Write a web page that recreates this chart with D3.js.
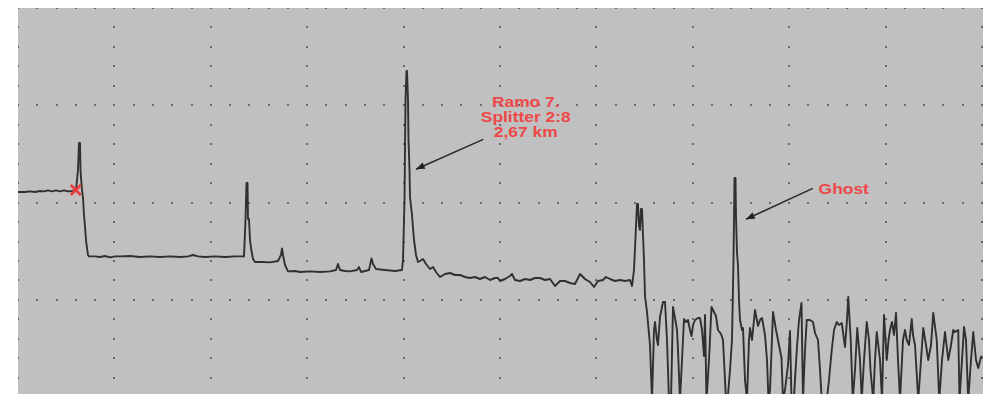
<!DOCTYPE html>
<html>
<head>
<meta charset="utf-8">
<script src="https://cdn.jsdelivr.net/npm/d3@7"></script>
<style>
  html, body { margin: 0; padding: 0; background: #ffffff; }
  svg { display: block; }
</style>
</head>
<body>
<svg id="chart" width="989" height="394"></svg>
<script>
// OTDR trace: distance in km, level in dB. Each section is a list of [km, dB] samples.
const launchTrace = [
  [-0.442,10.1],[-0.386,10.1],[-0.346,10.13],[-0.306,10.1],[-0.266,10.15],[-0.234,10.13],
  [-0.202,10.18],[-0.170,10.13],[-0.138,10.18],[-0.106,10.13],[-0.074,10.18],[-0.042,10.13],
  [-0.002,10.15],[0.022,10.2],[0.038,11.2],[0.046,12.55],[0.054,12.55],[0.058,11.2],
  [0.062,10.8],[0.070,10.2],[0.078,9.8],[0.086,8.95],[0.094,8.35],[0.102,7.7],[0.110,7.3],
  [0.118,6.95],[0.126,6.88]
];
const span1Trace = [
  [0.174,6.88],[0.214,6.85],[0.254,6.9],[0.294,6.83],[0.334,6.88],[0.374,6.88],[0.454,6.9],
  [0.534,6.85],[0.614,6.88],[0.694,6.85],[0.774,6.88],[0.854,6.85],[0.918,6.88],[0.958,6.95],
  [0.998,6.88],[1.054,6.85],[1.134,6.88],[1.214,6.85],[1.294,6.88],[1.366,6.88],
  [1.378,8.7],[1.386,10.55],[1.394,10.55],[1.398,8.75],[1.406,8.75],[1.414,7.7],[1.422,7.3],
  [1.438,6.75],[1.454,6.6]
];
const span2Trace = [
  [1.51,6.6],[1.574,6.58],[1.638,6.65],[1.662,6.95],[1.67,7.28],[1.678,6.95],[1.694,6.45],
  [1.718,6.13],[1.774,6.15],[1.814,6.1],[1.894,6.13],[1.974,6.1],[2.054,6.13],[2.102,6.2],
  [2.118,6.5],[2.134,6.2],[2.174,6.15],[2.214,6.13],[2.27,6.2],[2.286,6.35],[2.302,6.1],
  [2.334,6.15],[2.366,6.2],[2.386,6.78],[2.398,6.5],[2.422,6.25],[2.494,6.2],[2.574,6.15],
  [2.63,6.2]
];
const span3Trace = [
  [2.638,6.7],[2.65,9.7],[2.658,14.7],[2.666,16.15],[2.67,16.15],[2.678,14.7],[2.682,12.7],
  [2.69,11.2],[2.694,9.85],[2.71,8.95],[2.726,7.7],[2.742,6.95],[2.758,6.6],[2.774,6.65],
  [2.798,6.75],[2.822,6.5],[2.854,6.25],[2.878,6.35],[2.902,6.1],[2.934,5.85],[2.974,6.0],
  [3.014,6.05],[3.054,5.95],[3.094,5.95],[3.134,5.85],[3.174,5.8],[3.214,5.85],[3.254,5.75],
  [3.294,5.85],[3.334,5.7],[3.374,5.8],[3.398,5.8],[3.414,5.65],[3.454,5.75],[3.494,5.9],
  [3.51,6.0],[3.534,5.7],[3.574,5.65],[3.614,5.75],[3.654,5.7],[3.694,5.8],[3.734,5.8],
  [3.774,5.7],[3.814,5.75],[3.854,5.4],[3.894,5.65],[3.934,5.65],[3.974,5.55],[4.014,5.5],
  [4.054,6.0],[4.094,5.75],[4.134,5.6],[4.166,5.35],[4.198,5.65],[4.238,5.7],[4.262,5.85],
  [4.294,5.75],[4.334,5.65],[4.374,5.7],[4.414,5.65],[4.454,5.7],[4.47,5.4],
  [4.486,6.2],[4.502,8.4],[4.51,9.5],[4.518,9.5],[4.526,8.4],[4.534,8.2],[4.542,9.25],
  [4.55,9.25],[4.558,7.95],[4.566,6.7],[4.574,4.9],[4.59,4.1],[4.598,3.55],[4.614,2.45],
  [4.63,-0.3]
];
const endNoiseTrace = [
  [4.646,3.2],[4.654,3.6],[4.67,2.7],[4.678,2.45],[4.694,3.85],[4.718,4.6],[4.734,4.6],
  [4.75,2.7],[4.766,-0.3],[4.782,-0.3],[4.798,4.35],[4.814,3.8],[4.83,3.2],[4.838,2.2],
  [4.854,-0.3],[4.87,1.7],[4.886,3.75],[4.902,3.6],[4.918,3.7],[4.934,3.2],[4.946,2.9],
  [4.958,3.45],[4.974,3.7],[4.998,3.8],[5.014,3.8],[5.03,3.2],[5.046,1.9],[5.054,3.95],
  [5.066,-0.3],[5.086,1.7],[5.106,4.35],[5.126,4.1],[5.142,3.9],[5.158,3.2],[5.182,3.0],
  [5.198,2.7],[5.222,-0.3],[5.238,-0.05],[5.254,1.2],[5.27,2.7],[5.282,6.7],[5.29,10.8],
  [5.298,10.8],[5.302,8.85],[5.31,7.05],[5.318,6.45],[5.326,4.7],[5.334,3.7],[5.35,3.2],
  [5.358,3.3],[5.374,0.7],[5.39,-0.3],[5.406,2.7],[5.414,3.3],[5.43,2.7],[5.454,4.2],
  [5.478,3.4],[5.494,3.7],[5.51,3.8],[5.534,2.95],[5.55,1.7],[5.562,-0.3],[5.574,0.2],
  [5.598,4.1],[5.622,3.2],[5.638,2.7],[5.666,1.8],[5.678,-0.3],[5.694,0.2],[5.718,1.45],
  [5.734,3.15],[5.746,-0.3],[5.766,-0.1],[5.79,2.35],[5.806,3.7],[5.826,4.55],[5.838,-0.3],
  [5.854,2.2],[5.868,3.7],[5.894,3.7],[5.918,3.6],[5.934,3.05],[5.958,2.7],[5.974,1.2],
  [5.988,-0.3],[6.028,-0.3],[6.046,0.7],[6.068,2.2],[6.086,3.2],[6.108,3.6],[6.126,3.45],
  [6.148,3.55],[6.174,2.35],[6.19,3.7],[6.2,4.85],[6.22,2.7],[6.236,-0.3],[6.254,1.2],
  [6.272,3.3],[6.294,1.7],[6.308,-0.3],[6.326,1.7],[6.348,3.6],[6.366,2.7],[6.378,1.2],
  [6.4,-0.3],[6.414,1.7],[6.428,3.1],[6.454,1.7],[6.47,-0.3],[6.486,3.95],[6.508,1.7],
  [6.522,2.7],[6.534,3.2],[6.55,3.6],[6.566,2.95],[6.582,4.05],[6.598,1.7],[6.614,-0.3],
  [6.638,2.7],[6.654,3.2],[6.668,2.7],[6.686,2.45],[6.708,3.75],[6.718,2.95],[6.734,2.45],
  [6.76,-0.3],[6.782,1.7],[6.8,3.3],[6.822,2.45],[6.84,1.7],[6.862,2.45],[6.88,4.05],
  [6.908,2.7],[6.928,-0.3],[6.95,1.7],[6.974,3.1],[7.0,1.7],[7.022,2.45],[7.04,3.2],
  [7.054,3.1],[7.08,3.2],[7.09,-0.3],[7.11,1.7],[7.126,3.35],[7.142,2.7],[7.16,-0.3],
  [7.182,1.7],[7.2,3.1],[7.222,1.7],[7.24,1.3],[7.262,1.85],[7.27,1.9]
];

// Visible distance / level window and screen divisions
const distanceDomain = [-0.442, 7.27];
const levelDomain = [0, 19.3];
const xDivisions = 10, yDivisions = 4, subDivisions = 5;

// Event marker at the start of the fibre
const eventMarker = { km: 0.02, db: 10.2 };

// Callouts: text lines, text anchor, arrow tail and tip (km, dB)
const callouts = [
  { lines: ["Ramo 7.", "Splitter 2:8", "2,67 km"], textKm: 3.62, textDb: 14.35,
    tail: [3.28, 12.73], tip: [2.742, 11.24] },
  { lines: ["Ghost"], textKm: 6.164, textDb: 9.985,
    tail: [5.916, 10.28], tip: [5.382, 8.74] }
];

const svg = d3.select("#chart");
const plotLeft = 18, plotRight = 982, plotTop = 8;
const divH = 97.3;
const plotBottom = plotTop + divH * yDivisions;

const x = d3.scaleLinear().domain(distanceDomain).range([plotLeft, plotRight]);
const y = d3.scaleLinear().domain(levelDomain).range([394, plotTop]);
const gx = d3.scaleLinear().domain([0, xDivisions]).range([plotLeft, plotRight]);
const gy = d3.scaleLinear().domain([0, yDivisions]).range([plotTop, plotBottom]);

// Screen background
svg.append("rect")
  .attr("x", plotLeft).attr("y", plotTop)
  .attr("width", plotRight - plotLeft + 1).attr("height", plotBottom - plotTop)
  .attr("fill", "#c0c0c0");

const defs = svg.append("defs");
defs.append("clipPath").attr("id", "plot-clip")
  .append("rect").attr("x", plotLeft).attr("y", plotTop)
  .attr("width", plotRight - plotLeft + 1).attr("height", plotBottom - plotTop);

// Dotted graticule: dots every sub-division along each major line
const dots = [];
for (let i = 0; i <= xDivisions; i++) {
  for (let j = 0; j <= yDivisions * subDivisions; j++) {
    dots.push([gx(i), gy(j / subDivisions)]);
  }
}
for (let j = 0; j <= yDivisions; j++) {
  for (let i = 0; i <= xDivisions * subDivisions; i++) {
    dots.push([gx(i / subDivisions), gy(j)]);
  }
}
svg.append("g").attr("clip-path", "url(#plot-clip)")
  .selectAll("rect").data(dots).join("rect")
  .attr("x", d => Math.round(d[0]) - 1)
  .attr("y", d => Math.round(d[1]) - 1)
  .attr("width", 2).attr("height", 2)
  .attr("fill", "#6a6a6a");

// Trace
const trace = [].concat(launchTrace, span1Trace, span2Trace, span3Trace, endNoiseTrace);
const line = d3.line().x(d => x(d[0])).y(d => y(d[1]));
svg.append("path")
  .attr("clip-path", "url(#plot-clip)")
  .attr("d", line(trace))
  .attr("fill", "none")
  .attr("stroke", "#303030")
  .attr("stroke-width", 1.9)
  .attr("stroke-linejoin", "round");

// Event marker
const mx = x(eventMarker.km), my = y(eventMarker.db), ms = 5;
svg.append("path")
  .attr("d", `M${mx - ms},${my - ms}L${mx + ms},${my + ms}M${mx - ms},${my + ms}L${mx + ms},${my - ms}`)
  .attr("stroke", "#ee3b3b").attr("stroke-width", 2.6).attr("fill", "none");

// Arrowhead
defs.append("marker")
  .attr("id", "arrowhead")
  .attr("markerUnits", "userSpaceOnUse")
  .attr("viewBox", "0 0 10 8")
  .attr("refX", 10).attr("refY", 4)
  .attr("markerWidth", 10).attr("markerHeight", 7)
  .attr("orient", "auto")
  .append("path").attr("d", "M0,0L10,4L0,8Z").attr("fill", "#222");

const cg = svg.append("g");
callouts.forEach(c => {
  cg.append("line")
    .attr("x1", x(c.tail[0])).attr("y1", y(c.tail[1]))
    .attr("x2", x(c.tip[0])).attr("y2", y(c.tip[1]))
    .attr("stroke", "#2a2a2a").attr("stroke-width", 1.5)
    .attr("marker-end", "url(#arrowhead)");
  const cx = x(c.textKm), by = y(c.textDb);
  const t = cg.append("g")
    .attr("transform", `translate(${cx},0) scale(1.16,1) translate(${-cx},0)`);
  c.lines.forEach((s, i) => {
    t.append("text")
      .attr("x", cx).attr("y", by + i * 15)
      .attr("text-anchor", "middle")
      .attr("font-family", "'Liberation Sans', Arial, sans-serif")
      .attr("font-weight", "bold")
      .attr("font-size", 15)
      .attr("fill", "#ee4848")
      .text(s);
  });
});
</script>
</body>
</html>
